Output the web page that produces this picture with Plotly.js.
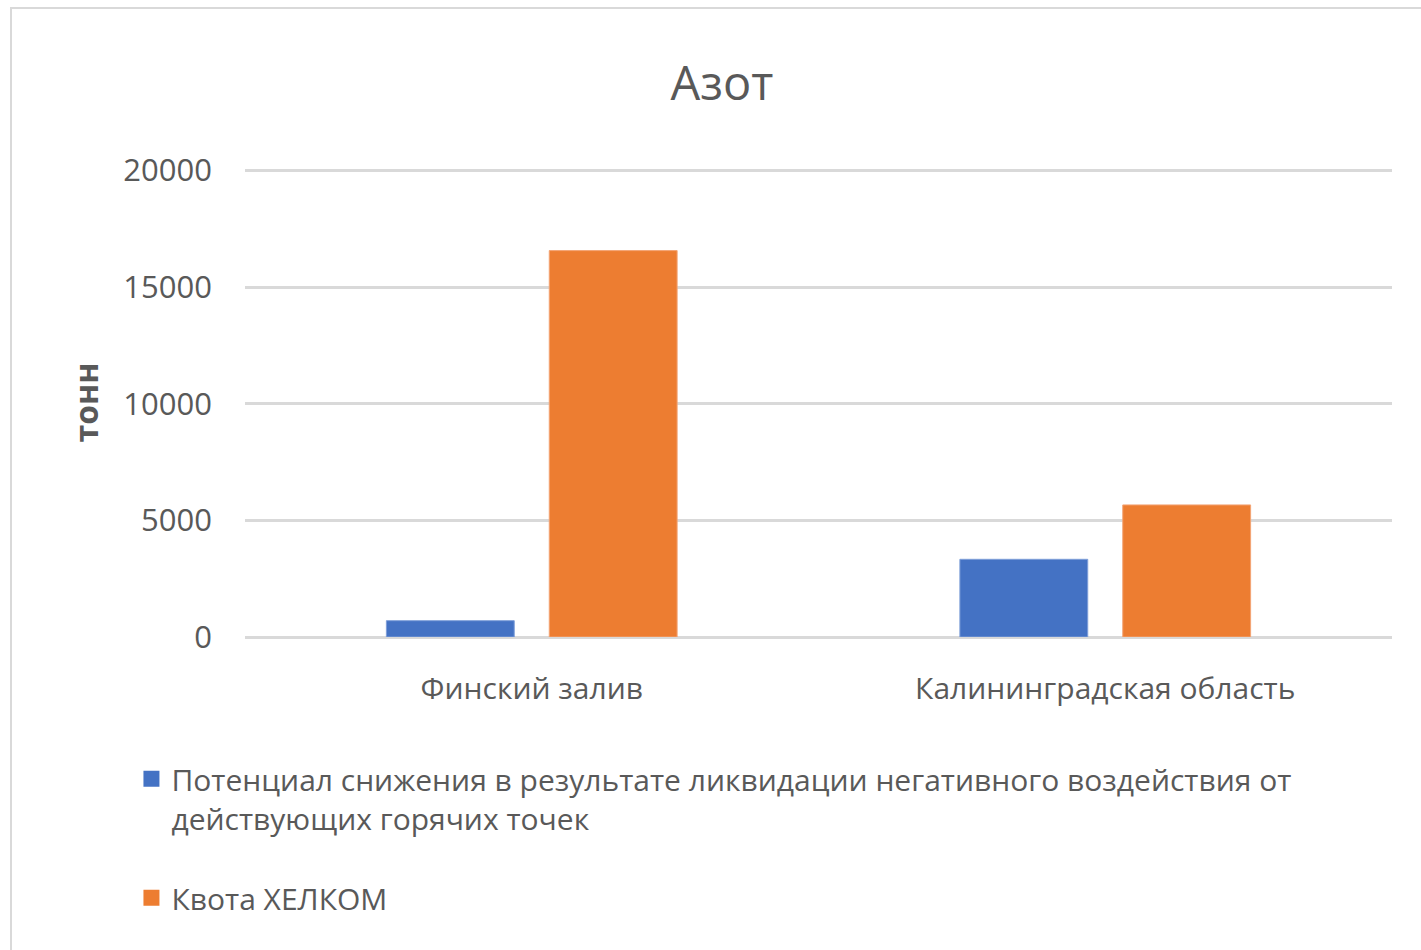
<!DOCTYPE html>
<html>
<head>
<meta charset="utf-8">
<script src="https://cdn.plot.ly/plotly-3.0.1.min.js"></script>
<style>
  html, body { margin: 0; padding: 0; background: #ffffff; }
  #chart { width: 1421px; height: 950px; }
  #frame { position: absolute; left: 10px; top: 7px; width: 1420px; height: 950px;
           border-left: 2px solid #d9d9d9; border-top: 2px solid #d9d9d9; pointer-events: none; }
</style>
</head>
<body>
<div id="chart"></div>
<div id="frame"></div>
<script>
const categories = ["Финский залив", "Калининградская область"];
const seriesNames = [
  "Потенциал снижения в результате ликвидации негативного воздействия от<br>действующих горячих точек",
  "Квота ХЕЛКОМ"
];
const seriesColors = ["#4472C4", "#ED7D31"];
const potentialValues = [700, 3330];
const quotaValues = [16560, 5660];
const yTicks = [0, 5000, 10000, 15000, 20000];

const FONT = "'Open Sans', 'Noto Sans', sans-serif";
const GREY = "#595959";

const traces = [
  {
    type: "bar", x: categories, y: potentialValues, name: seriesNames[0],
    showlegend: false,
    marker: { color: seriesColors[0], line: { color: "#7f9fd9", width: 1 } },
    hoverinfo: "skip"
  },
  {
    type: "bar", x: categories, y: quotaValues, name: seriesNames[1],
    showlegend: false,
    marker: { color: seriesColors[1], line: { color: "#f3a474", width: 1 } },
    hoverinfo: "skip"
  },
  // legend-only entries (larger square swatches)
  {
    type: "scatter", mode: "markers", x: [null], y: [null], name: seriesNames[0],
    legendgroup: "a",
    marker: { symbol: "square", size: 16, color: seriesColors[0] },
    hoverinfo: "skip"
  },
  {
    type: "scatter", mode: "markers", x: [null], y: [null], name: seriesNames[1],
    legendgroup: "b",
    marker: { symbol: "square", size: 16, color: seriesColors[1] },
    hoverinfo: "skip"
  }
];

const layout = {
  width: 1421, height: 950,
  margin: { l: 245, r: 29, t: 168, b: 313 },
  paper_bgcolor: "#ffffff", plot_bgcolor: "#ffffff",
  font: { family: FONT, color: GREY },
  title: { text: "Азот", font: { family: FONT, size: 47, color: GREY },
           x: 0.508, xref: "container", xanchor: "center", y: 0.912, yref: "container", yanchor: "middle" },
  barmode: "group",
  bargap: 0.432,
  bargroupgap: 0.215,
  showlegend: true,
  legend: {
    x: -0.099, xanchor: "left", y: -0.247, yanchor: "top",
    orientation: "v", traceorder: "grouped", tracegroupgap: 38,
    valign: "top", itemwidth: 30,
    font: { family: FONT, size: 30, color: GREY },
    bgcolor: "rgba(0,0,0,0)"
  },
  xaxis: {
    type: "category",
    showgrid: false, showline: false, zeroline: false,
    ticks: "", ticklabelstandoff: 31,
    tickfont: { family: FONT, size: 30, color: GREY }
  },
  yaxis: {
    range: [0, 20100], tickvals: yTicks, ticktext: yTicks.map(String),
    showgrid: true, gridcolor: "#d9d9d9", gridwidth: 3,
    zeroline: true, zerolinecolor: "#d9d9d9", zerolinewidth: 3,
    showline: false, ticks: "", ticklabelstandoff: 32,
    tickfont: { family: FONT, size: 31, color: GREY },
    title: { text: "<b>тонн</b>", font: { family: FONT, size: 32, color: GREY }, standoff: 15 }
  }
};

Plotly.newPlot("chart", traces, layout, { displayModeBar: false, staticPlot: true });
</script>
</body>
</html>
